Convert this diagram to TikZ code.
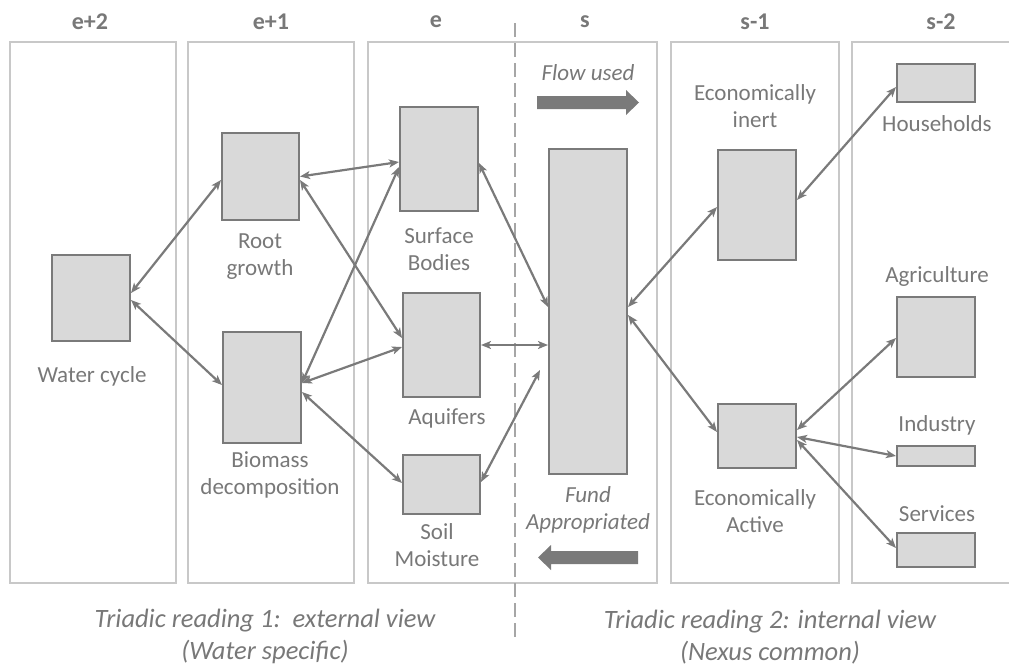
\documentclass[tikz,border=0pt]{standalone}
\usepackage{fontspec}
\setmainfont{Carlito}
\usetikzlibrary{arrows.meta}
\definecolor{txt}{HTML}{787878}
\definecolor{frame}{HTML}{C8C8C8}
\definecolor{boxfill}{HTML}{D9D9D9}
\definecolor{boxline}{HTML}{7A7A7A}
\definecolor{link}{HTML}{7A7A7A}
\definecolor{divider}{HTML}{A6A6A6}
\begin{document}
\begin{tikzpicture}[x=1pt,y=-1pt,
  panel/.style={draw=frame,line width=1.8pt},
  header/.style={text=txt,font=\fontsize{24}{28}\selectfont\bfseries,inner sep=0},
  label/.style={text=txt,font=\fontsize{23}{27}\selectfont,align=center,inner sep=0},
  ilabel/.style={label,font=\fontsize{23}{27}\selectfont\itshape},
  caption/.style={text=txt,font=\fontsize{26.5}{32}\selectfont\itshape,align=center,inner sep=0},
  block/.style={draw=boxline,fill=boxfill,line width=2pt,inner sep=0,rectangle},
  link/.style={draw=link,line width=2.2pt,{Stealth[length=10pt,width=8pt,inset=2.5pt]}-{Stealth[length=10pt,width=8pt,inset=2.5pt]}},
  fatarrow/.style={fill=link,draw=none}]
\useasboundingbox (0,0) rectangle (1009,665);

% column frames
\draw[panel] (10,42) rectangle (176,583);
\draw[panel] (188,42) rectangle (354,583);
\draw[panel] (368,42) rectangle (657,583);
\draw[panel] (671,42) rectangle (839,583);
\draw[panel] (852,42) rectangle (1015,583);

% boundary between the two readings
\draw[divider,line width=2.5pt,dash pattern=on 14pt off 6pt] (515,23) -- (515,642);

% column headers
\node[header] (h1) at (90,22) {e+2};
\node[header] (h2) at (271,22) {e+1};
\node[header] (h3) at (436,22) {e};
\node[header] (h4) at (585,22) {s};
\node[header] (h5) at (755,22) {s-1};
\node[header] (h6) at (941,22) {s-2};

% compartments
\node[block,minimum width=78pt,minimum height=86pt] (wc) at (91,298) {};
\node[block,minimum width=77pt,minimum height=87pt] (rg) at (260.5,176.5) {};
\node[block,minimum width=78pt,minimum height=111pt] (bm) at (262,387.5) {};
\node[block,minimum width=78pt,minimum height=104pt] (sb) at (439,159) {};
\node[block,minimum width=77pt,minimum height=104pt] (aq) at (441.5,345) {};
\node[block,minimum width=77pt,minimum height=59pt] (sm) at (441.5,484.5) {};
\node[block,minimum width=78pt,minimum height=325pt] (fund) at (588,311.5) {};
\node[block,minimum width=78pt,minimum height=110pt] (ei) at (757,205) {};
\node[block,minimum width=78pt,minimum height=64pt] (ea) at (757,436) {};
\node[block,minimum width=78pt,minimum height=38pt] (hh) at (936,83) {};
\node[block,minimum width=78pt,minimum height=80pt] (ag) at (936,337) {};
\node[block,minimum width=78pt,minimum height=20pt] (ind) at (936,456) {};
\node[block,minimum width=78pt,minimum height=34pt] (srv) at (936,550) {};

% compartment labels
\node[label] (lwc) at (92,376) {Water cycle};
\node[label] (lrg) at (260,257) {Root\\growth};
\node[label] (lbm) at (270,475) {Biomass\\decomposition};
\node[label] (lsb) at (439,249) {Surface\\Bodies};
\node[label] (laq) at (447,418) {Aquifers};
\node[label] (lsm) at (437,545) {Soil\\Moisture};
\node[label] (lei) at (755,106) {Economically\\inert};
\node[label] (lea) at (755,511) {Economically\\Active};
\node[label] (lhh) at (937,124) {Households};
\node[label] (lag) at (937,276) {Agriculture};
\node[label] (lind) at (937,425) {Industry};
\node[label] (lsrv) at (937,514) {Services};
\node[ilabel] (lflow) at (588,73) {Flow used};
\node[ilabel] (lfund) at (588,510) {Fund\\Appropriated};

% flow and fund direction arrows
\fill[fatarrow] (537,96) -- (626,96) -- (626,90) -- (639,102.5) -- (626,115) -- (626,109) -- (537,109) -- cycle;
\fill[fatarrow] (638,551) -- (551,551) -- (551,545) -- (538,557.5) -- (551,570) -- (551,564) -- (638,564) -- cycle;

% external view links
\draw[link] ([yshift=5pt]wc.east) -- ([yshift=-3.5pt]rg.west);
\draw[link] ([yshift=-2pt]wc.east) -- ([yshift=2.5pt]bm.west);
\draw[link] (rg.east) -- ([yshift=-3pt]sb.west);
\draw[link] ([yshift=-3.5pt]rg.east) -- ([yshift=7pt]aq.west);
\draw[link] ([yshift=4.5pt]bm.east) -- ([yshift=-8pt]sb.west);
\draw[link] ([yshift=4.5pt]bm.east) -- ([yshift=-2pt]aq.west);
\draw[link] ([yshift=-4.5pt]bm.east) -- ([yshift=1.5pt]sm.west);
\draw[link] ([yshift=-4pt]sb.east) -- ([yshift=4.5pt]fund.west);
\draw[link] (aq.east) -- ([yshift=-33.5pt]fund.west);
\coordinate (smend) at (540,370);
\draw[link] ([yshift=2.5pt]sm.east) -- (smend);

% internal view links
\draw[link] ([yshift=4.5pt]fund.east) -- ([yshift=-2pt]ei.west);
\draw[link] ([yshift=-3.5pt]fund.east) -- ([yshift=4pt]ea.west);
\draw[link] ([yshift=5pt]ei.east) -- ([yshift=-4pt]hh.west);
\draw[link] ([yshift=6pt]ea.east) -- ([yshift=-1pt]ag.west);
\draw[link] ([yshift=-1pt]ea.east) -- (ind.west);
\draw[link] ([yshift=-4pt]ea.east) -- ([yshift=2pt]srv.west);

% readings
\node[caption] (c1) at (265,636) {Triadic reading 1:\ \ external view\\(Water specific)};
\node[caption] (c2) at (770,637) {Triadic reading 2: internal view\\(Nexus common)};
\end{tikzpicture}
\end{document}
